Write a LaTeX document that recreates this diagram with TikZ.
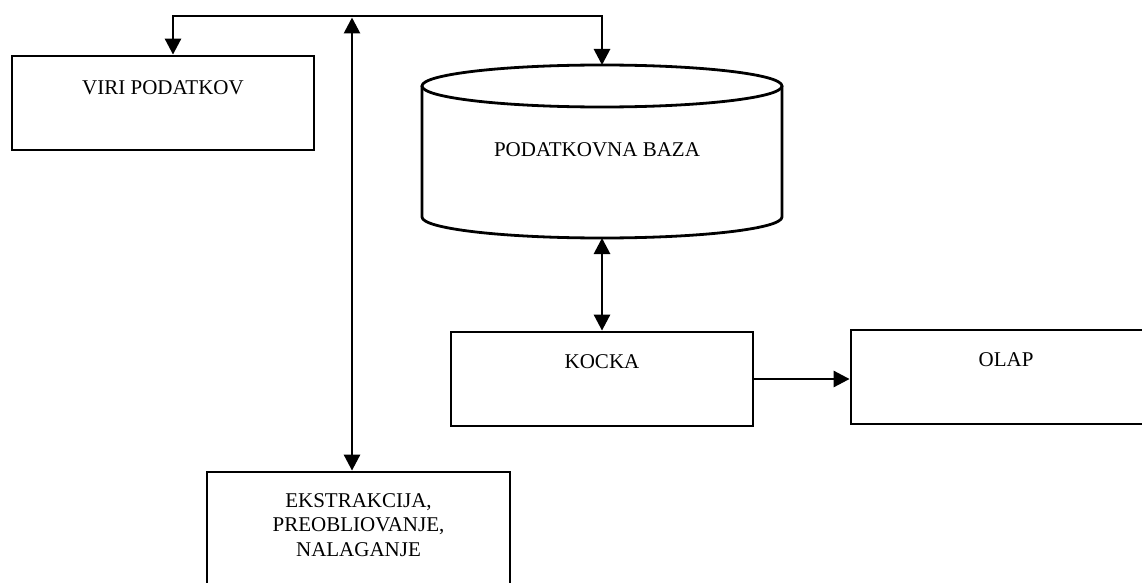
\documentclass[tikz,border=0pt]{standalone}
\usepackage{fontspec}
\setmainfont{Liberation Serif}
\usetikzlibrary{arrows.meta}
\begin{document}
\begin{tikzpicture}[x=1pt,y=-1pt,
  box/.style={draw, line width=2.8pt, rectangle, inner sep=0pt},
  lbl/.style={font=\fontsize{21}{24.5}\selectfont, align=center, inner sep=0pt},
  link/.style={line width=2.8pt, {Triangle[length=16pt,width=16pt]}-{Triangle[length=16pt,width=16pt]}},
  flow/.style={line width=2.8pt, -{Triangle[length=16pt,width=16pt]}}]
\clip (0,0) rectangle (1142,583);
\fill[white] (0,0) rectangle (1142,583);

% boxes
\node[box, minimum width=302pt, minimum height=94pt] (viri) at (163,103) {};
\node[lbl] (viritxt) at (163,88) {VIRI PODATKOV};

\node[box, minimum width=302pt, minimum height=94pt] (kocka) at (602,379) {};
\node[lbl] (kockatxt) at (602,361.5) {KOCKA};

\node[box, minimum width=310pt, minimum height=94pt] (olap) at (1006,377) {};
\node[lbl] (olaptxt) at (1006,359.5) {OLAP};

\node[box, minimum width=303pt, minimum height=128pt] (etl) at (358.5,536) {};
\node[lbl] (etltxt) at (358.5,525) {EKSTRAKCIJA,\\PREOBLIOVANJE,\\NALAGANJE};

% database cylinder
\draw[line width=2.8pt] (422,86) -- (422,217)
  arc[start angle=180, end angle=360, x radius=180pt, y radius=21pt] -- (782,86);
\draw[line width=2.8pt] (602,86) ellipse [x radius=180pt, y radius=21pt];
\node[lbl] (db) at (597,149.5) {PODATKOVNA BAZA};
\coordinate (dbtop) at (602,65);
\coordinate (dbbot) at (602,238);

% connectors
\coordinate (hl) at (173,16);
\coordinate (hr) at (602,16);
\coordinate (hm) at (352,17.5);
\draw[link] (viri.north -| hl) -- (hl) -- (hr) -- (dbtop);
\draw[link] (hm) -- (hm |- etl.north);
\draw[link] (dbbot) -- (kocka.north);
\draw[flow] (kocka.east) -- (kocka.east -| olap.west);
\end{tikzpicture}
\end{document}
